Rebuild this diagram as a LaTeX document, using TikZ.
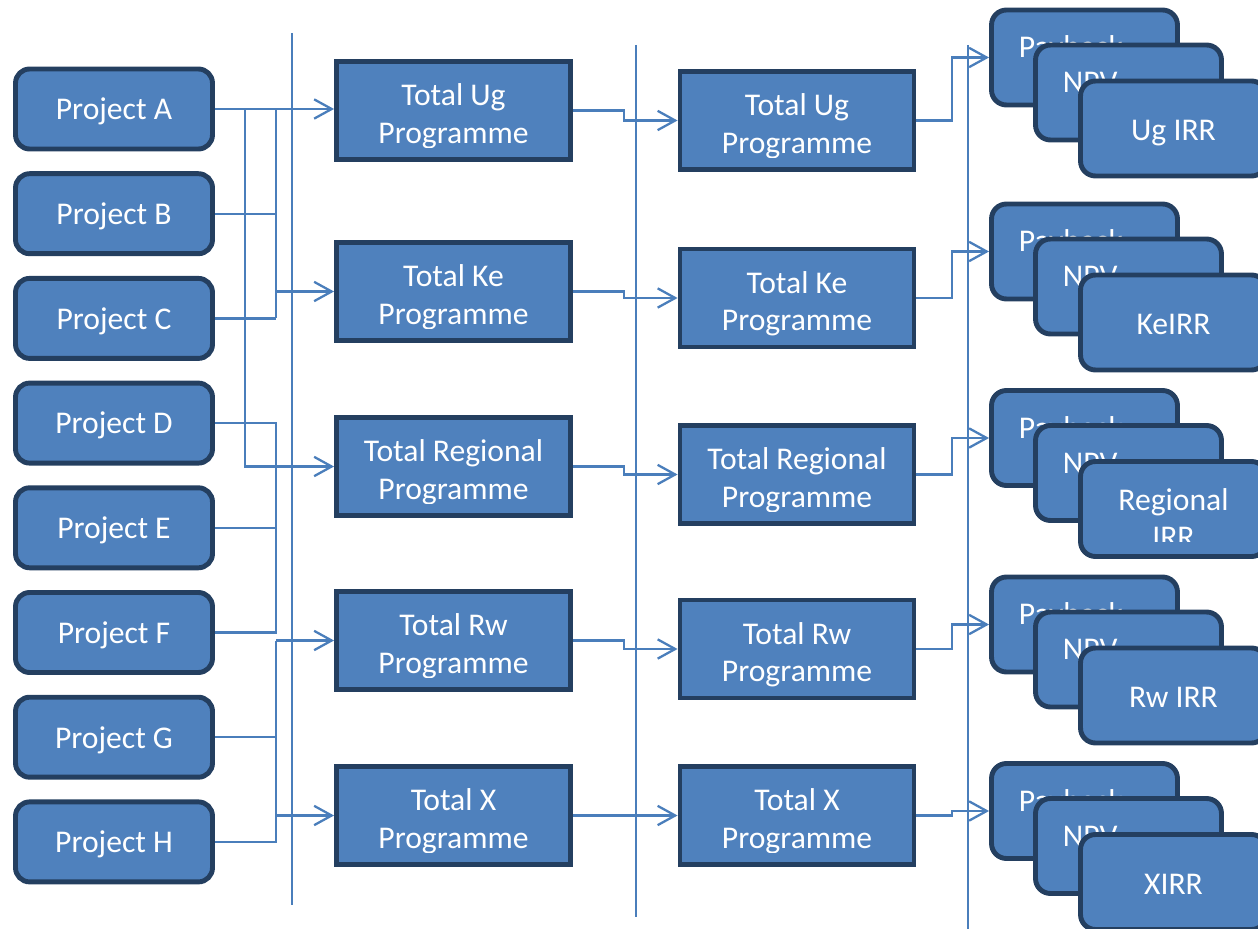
\documentclass[tikz,border=0pt]{standalone}
\usepackage{fontspec}
\setmainfont{Carlito}
\usepackage{tikz}
\usetikzlibrary{arrows.meta,calc}
\definecolor{boxfill}{HTML}{4F81BD}
\definecolor{boxedge}{HTML}{243F60}
\definecolor{linkblue}{HTML}{4A7EBB}
\tikzset{
  boxlabel/.style={text=white,align=center,inner sep=0pt,text depth=0pt,
    font=\fontsize{18}{21.6}\selectfont},
  projectbox/.style={boxlabel,draw=boxedge,fill=boxfill,line width=2.8pt,rounded corners=8pt,
    minimum width=3.94cm,minimum height=1.6cm},
  programmebox/.style={draw=boxedge,fill=boxfill,line width=2.8pt,inner sep=0pt,
    minimum width=4.68cm,minimum height=1.96cm},
  resultbox/.style={draw=boxedge,fill=boxfill,line width=2.8pt,rounded corners=8.5pt,inner sep=0pt,
    minimum width=3.72cm,minimum height=1.9cm},
  linkline/.style={draw=linkblue,line width=1.3pt},
  linkarrow/.style={linkline,-{Straight Barb[length=10pt,width=11pt]}},
  dividerline/.style={draw=linkblue,line width=1pt}
}
% [shift]{box}{bottom inset}{text}
\newcommand{\cliplabel}[4][0]{%
  \begin{scope}
    \clip ($(#2.south west)+(0,-#3)$) rectangle (#2.north east);
    \node[boxlabel] (#2-text) at ($(#2.center)+(0,#1)$) {#4};
  \end{scope}}

\begin{document}
\begin{tikzpicture}[x=0.02cm,y=-0.02cm]
  \useasboundingbox (0,0) rectangle (1258,929);
  \draw[dividerline] (292,33) -- (292,905);
  \draw[dividerline] (636,45) -- (636,917);
  \draw[dividerline] (968,45) -- (968,929);
  \coordinate (lane) at (245,0);
  \coordinate (bus) at (276,0);
  \coordinate (stepa) at (624,0);
  \coordinate (stepb) at (952,0);
  \foreach \name/\lab [count=\i from 0] in {pa/A,pb/B,pc/C,pd/D,pe/E,pf/F,pg/G,ph/H}
    \node[projectbox] (\name) at (114,{109+104.7*\i}) {Project \lab};
  \foreach \name/\ya/\yb/\lab in {ug/110.5/120.5/Ug,ke/291.5/298/Ke,reg/466.5/474.5/Regional,
      rw/640.5/649/Rw,x/815.5/815.5/X}{
    \node[programmebox] (\name1) at (453.5,\ya) {};
    \cliplabel[3]{\name1}{14}{Total \lab\\Programme}
    \node[programmebox] (\name2) at (797,\yb) {};
    \cliplabel[3]{\name2}{14}{Total \lab\\Programme}
  }
  \foreach \name/\y/\lab/\dy in {ug/57.5/Ug IRR/2,ke/251.5/KeIRR/2,reg/438/{Regional\\IRR}/9,
      rw/624.5/Rw IRR/2,x/811/XIRR/2}{
    \node[resultbox] (\name-back) at (1084.5,\y) {};
    \node[boxlabel,anchor=base west] (\name-pay) at ($(\name-back.center)+(-66,0)$) {Payback};
    \node[resultbox] (\name-mid) at (1128.5,{\y+35}) {};
    \node[boxlabel,anchor=base west] (\name-npv) at ($(\name-mid.center)+(-66,0)$) {NPV};
    \node[resultbox] (\name-front) at (1173.5,{\y+71}) {};
    \cliplabel[\dy]{\name-front}{17}{\lab}
  }
  \draw[linkarrow] (pa.east) -- (pa.east -| ug1.west);
  \draw[linkarrow] (pa.east -| lane) |- (reg1.west);
  \draw[linkline] (pa.east -| bus) -- (pc.east -| bus);
  \draw[linkline] (pb.east) -- (pb.east -| bus);
  \draw[linkline] (pc.east) -- (pc.east -| bus);
  \draw[linkarrow] (ke1.west -| bus) -- (ke1.west);
  \draw[linkline] (pd.east) -| (pf.east -| bus) -- (pf.east);
  \draw[linkline] (pe.east) -- (pe.east -| bus);
  \draw[linkline] (rw1.west -| bus) -- (ph.east -| bus) -- (ph.east);
  \draw[linkline] (pg.east) -- (pg.east -| bus);
  \draw[linkarrow] (rw1.west -| bus) -- (rw1.west);
  \draw[linkarrow] (x1.west -| bus) -- (x1.west);
  \foreach \name in {ug,ke,reg,rw,x}{
    \draw[linkarrow] (\name1.east) -- (\name1.east -| stepa) |- (\name2.west);
    \draw[linkarrow] (\name2.east) -- (\name2.east -| stepb) |- (\name-back.west);
  }
\end{tikzpicture}
\end{document}
